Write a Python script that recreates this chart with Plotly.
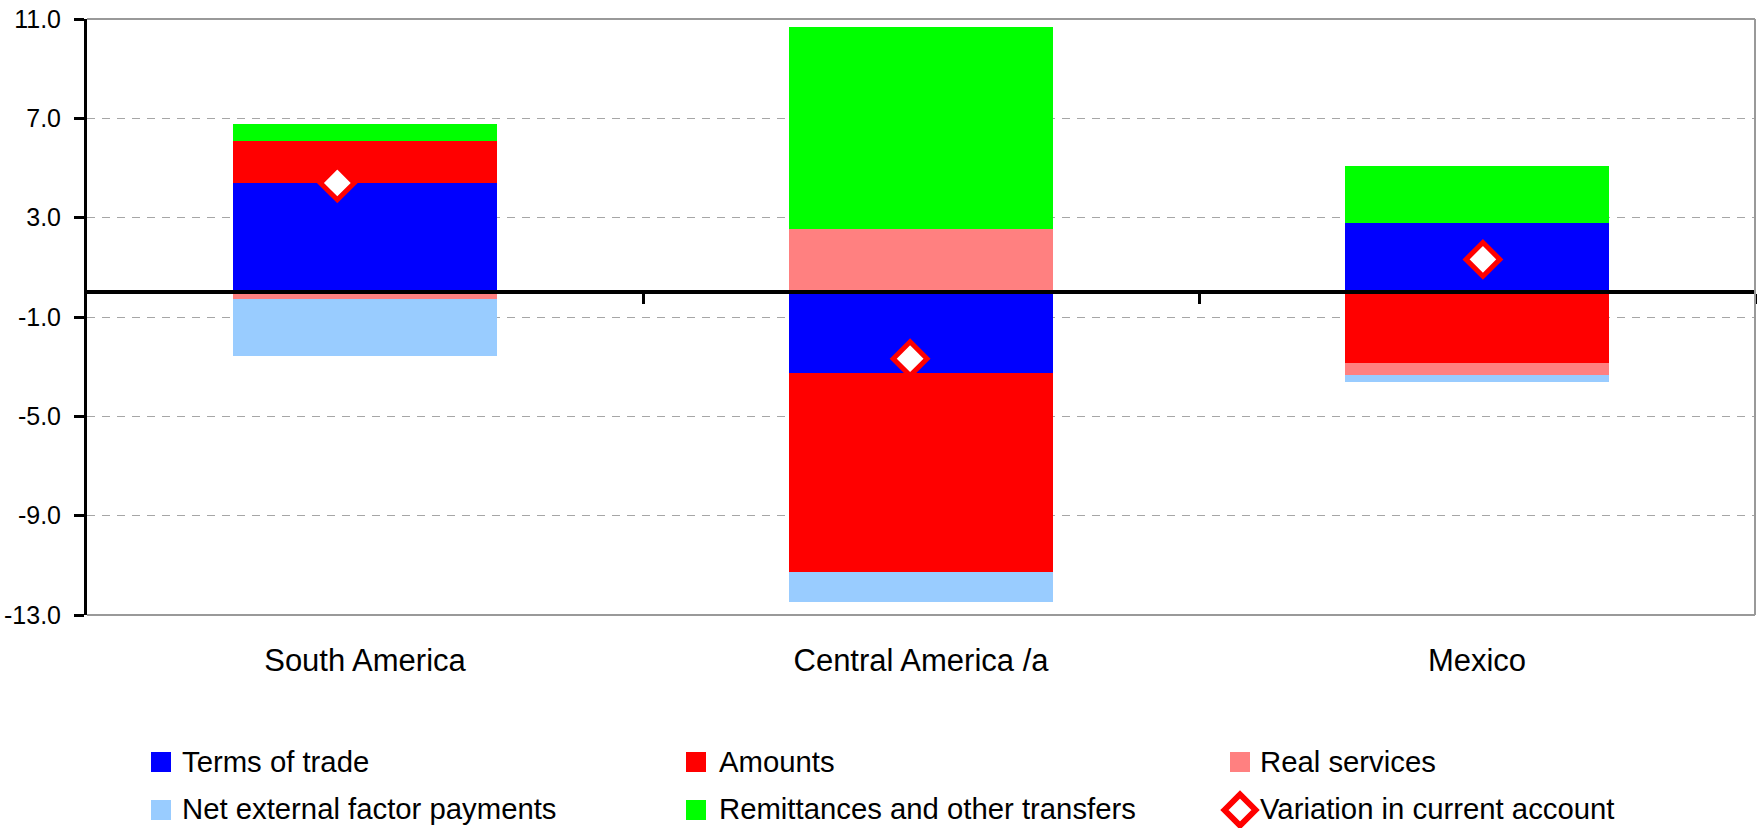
import plotly.graph_objects as go

# ---- data -------------------------------------------------------------
categories = ["South America", "Central America /a", "Mexico"]

terms_of_trade = [4.41, -3.24, 2.80]
amounts = [1.69, -8.02, -2.84]
real_services = [-0.26, 2.56, -0.48]
net_factor_payments = [-2.30, -1.23, -0.28]
remittances = [0.69, 8.13, 2.29]
current_account = [4.40, -2.68, 1.32]

y_ticks = [-13, -9, -5, -1, 3, 7, 11]

series_names = [
    "Terms of trade",
    "Amounts",
    "Real services",
    "Net external factor payments",
    "Remittances and other transfers",
]
series_values = [terms_of_trade, amounts, real_services, net_factor_payments, remittances]
series_colors = ["#0000FF", "#FF0000", "#FF8080", "#99CCFF", "#00FF00"]
marker_name = "Variation in current account"

# ---- layout constants -------------------------------------------------
W, H = 1757, 828
ML, MR, MT, MB = 87, 2, 19, 213
PW, PH = W - ML - MR, H - MT - MB
FONT = "Liberation Sans, Arial, sans-serif"
y_min, y_max = y_ticks[0], y_ticks[-1]


def px_x(p):
    return (p - ML) / PW


def px_y(p):
    return (H - MB - p) / PH


fig = go.Figure()

for name, vals, col in zip(series_names, series_values, series_colors):
    fig.add_trace(go.Bar(
        x=categories, y=vals, name=name, width=0.475,
        marker=dict(color=col, line=dict(width=0)),
        showlegend=False,
    ))

# empty trace so the zero-crossing category axis gets drawn
fig.add_trace(go.Scatter(
    x=[None], y=[None], xaxis="x3", mode="markers",
    showlegend=False, hoverinfo="skip",
))

fig.add_trace(go.Scatter(
    x=categories, y=current_account, name=marker_name, mode="markers",
    xaxis="x2",
    marker=dict(symbol="diamond", size=26, color="white",
                line=dict(color="#FF0000", width=5)),
    showlegend=False, cliponaxis=False,
))

fig.update_layout(
    width=W, height=H, autosize=False,
    margin=dict(l=ML, r=MR, t=MT, b=MB, pad=0),
    paper_bgcolor="white", plot_bgcolor="white",
    barmode="relative", bargap=0,
    font=dict(family=FONT, color="black"),
    xaxis=dict(
        type="category", categoryorder="array", categoryarray=categories,
        range=[-0.5, 2.5], showline=False, ticks="", showgrid=False,
        zeroline=False, tickfont=dict(size=31), ticklabelstandoff=24,
    ),
    xaxis2=dict(
        type="category", categoryorder="array", categoryarray=categories,
        overlaying="x", anchor="y", range=[-0.437, 2.475], visible=False,
    ),
    # category axis crossing the value axis at zero
    xaxis3=dict(
        type="linear", overlaying="x", anchor="free",
        position=(0 - y_min) / (y_max - y_min),
        range=[-0.5, 2.5], showline=True, linecolor="black", linewidth=4,
        ticks="outside", tickvals=[0.5, 1.5, 2.5], ticklen=10, tickwidth=3,
        tickcolor="black", showticklabels=False, showgrid=False, zeroline=False,
        layer="above traces",
    ),
    yaxis=dict(
        range=[y_min, y_max], tickvals=y_ticks,
        ticktext=[f"{v:.1f}" for v in y_ticks],
        ticks="outside", ticklen=10, tickwidth=3, tickcolor="black",
        showline=True, linecolor="black", linewidth=3,
        showgrid=True, gridcolor="#A6A6A6", gridwidth=1, griddash="8px,7px",
        zeroline=False, tickfont=dict(size=25), ticklabelstandoff=8,
    ),
)

# plot-area frame (top, right, bottom)
frame = dict(type="line", xref="paper", yref="paper",
             line=dict(color="#999999", width=2), layer="above")
fig.add_shape(**frame, x0=0, x1=1, y0=1, y1=1)
fig.add_shape(**frame, x0=1, x1=1, y0=0, y1=1)
fig.add_shape(**frame, x0=0, x1=1, y0=0, y1=0)

# ---- legend (3 columns x 2 rows) ---------------------------------------
col_sym = [161, 696, 1240]
col_txt = [181, 718, 1259]
row_sym = [762, 810]
row_txt = [761, 808]
sq = 10  # half size of legend squares, px

entries = list(zip(series_names, series_colors)) + [(marker_name, None)]
for i, (name, col) in enumerate(entries):
    r, c = divmod(i, 3)
    cx, cy = col_sym[c], row_sym[r]
    if col is not None:
        fig.add_shape(type="rect", xref="paper", yref="paper",
                      x0=px_x(cx - sq), x1=px_x(cx + sq),
                      y0=px_y(cy + sq), y1=px_y(cy - sq),
                      fillcolor=col, line=dict(width=0), layer="above")
    else:
        h = 15.5
        path = (f"M {px_x(cx - h)},{px_y(cy)} L {px_x(cx)},{px_y(cy - h)} "
                f"L {px_x(cx + h)},{px_y(cy)} L {px_x(cx)},{px_y(cy + h)} Z")
        fig.add_shape(type="path", xref="paper", yref="paper", path=path,
                      fillcolor="white", line=dict(color="#FF0000", width=6),
                      layer="above")
    fig.add_annotation(xref="paper", yref="paper", x=px_x(col_txt[c]),
                       y=px_y(row_txt[r]), text=name, showarrow=False,
                       xanchor="left", yanchor="middle", borderpad=0,
                       font=dict(size=29.3, family=FONT, color="black"))

fig.write_html("out.html")
